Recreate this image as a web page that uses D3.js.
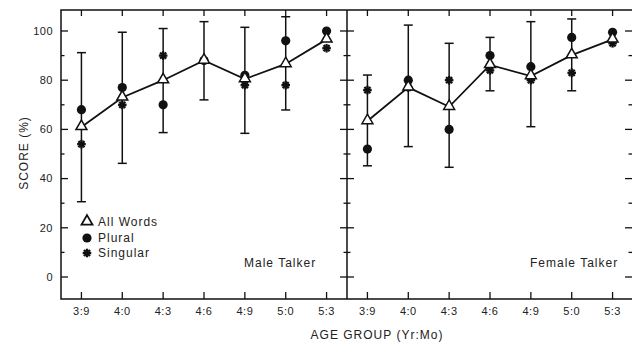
<!doctype html>
<html lang="en">
<head>
  <meta charset="utf-8">
  <title>Score by age group</title>
  <style>
    body { margin: 0; background: #fff; }
    svg { display: block; }
    text { font-family: "Liberation Sans", Arial, sans-serif; fill: #222; }
    .tick-label { font-size: 11px; letter-spacing: 0.5px; }
    .title { font-size: 12px; letter-spacing: 1px; }
  </style>
</head>
<body>
<svg width="632" height="342"></svg>
<script src="https://cdn.jsdelivr.net/npm/d3@7"></script>
<script>
  // ---- data ----
  var ages = ["3:9", "4:0", "4:3", "4:6", "4:9", "5:0", "5:3"];
  var yTicks = [0, 20, 40, 60, 80, 100];

  // male talker
  var maleAll = [61, 73, 80, 88, 80.5, 86.6, 96.6];
  var maleLo = [30.6, 46.2, 58.7, 72, 58.4, 67.9, null];
  var maleHi = [91.2, 99.5, 101, 103.8, 101.5, 105.8, null];
  var malePlural = [68, 77, 70, 88, 82, 96, 100];
  var maleSingular = [54, 70, 90, 88, 78, 78, 93];

  // female talker
  var femaleAll = [63.4, 77.1, 69.2, 86.2, 81.7, 90.2, 96.6];
  var femaleLo = [45.2, 53, 44.6, 75.7, 61.1, 75.7, null];
  var femaleHi = [82.1, 102.4, 95, 97.4, 103.8, 104.9, null];
  var femalePlural = [52, 80, 60, 90, 85.5, 97.4, 99.5];
  var femaleSingular = [76, 77, 80, 84, 80, 83, 95];

  var panels = [
    { name: "Male Talker", all: maleAll, lo: maleLo, hi: maleHi, plural: malePlural, singular: maleSingular },
    { name: "Female Talker", all: femaleAll, lo: femaleLo, hi: femaleHi, plural: femalePlural, singular: femaleSingular }
  ];

  var svg = d3.select("svg");
  var frameL = 61, frameM = 347, frameR = 633, frameT = 10, frameB = 299;

  var y = d3.scaleLinear().domain([0, 100]).range([277, 31]);

  var g = svg.append("g");

  // frame
  g.append("path")
    .attr("d", "M" + frameL + "," + frameT + "H" + frameR + "V" + frameB + "H" + frameL + "Z")
    .attr("fill", "none").attr("stroke", "#111").attr("stroke-width", 1.5);
  g.append("line")
    .attr("x1", frameM).attr("x2", frameM).attr("y1", frameT).attr("y2", frameB)
    .attr("stroke", "#111").attr("stroke-width", 1.5);

  // y ticks on left edge, divider and right edge
  var allTicks = d3.range(0, 110, 10);
  allTicks.forEach(function (v) {
    var major = v % 20 === 0, len = major ? 7 : 3.5;
    g.append("line").attr("x1", frameL).attr("x2", frameL + len).attr("y1", y(v)).attr("y2", y(v))
      .attr("stroke", "#111").attr("stroke-width", 1.3);
    g.append("line").attr("x1", frameM - len).attr("x2", frameM + len).attr("y1", y(v)).attr("y2", y(v))
      .attr("stroke", "#111").attr("stroke-width", 1.3);
    g.append("line").attr("x1", frameR - len - 1).attr("x2", frameR).attr("y1", y(v)).attr("y2", y(v))
      .attr("stroke", "#111").attr("stroke-width", 1.3);
  });

  g.selectAll(".ylab").data(yTicks).enter().append("text")
    .attr("class", "tick-label")
    .attr("x", 53).attr("y", function (d) { return y(d); })
    .attr("dy", "0.35em").attr("text-anchor", "end")
    .text(function (d) { return d; });

  // asterisk marker
  function asterisk(sel, r) {
    [0, 45, 90, 135].forEach(function (a) {
      sel.append("line")
        .attr("x1", -r).attr("x2", r).attr("y1", 0).attr("y2", 0)
        .attr("transform", "rotate(" + a + ")")
        .attr("stroke", "#111").attr("stroke-width", 2.3);
    });
  }
  var tri = d3.symbol().type(d3.symbolTriangle).size(52);

  panels.forEach(function (p, i) {
    var x0 = i === 0 ? frameL : frameM, x1 = i === 0 ? frameM : frameR;
    var x = d3.scalePoint().domain(ages).range([x0, x1]).padding(0.5);
    var pg = g.append("g");

    // x ticks top and bottom, labels
    ages.forEach(function (a) {
      pg.append("line").attr("x1", x(a)).attr("x2", x(a)).attr("y1", frameB).attr("y2", frameB - 7)
        .attr("stroke", "#111").attr("stroke-width", 1.3);
      pg.append("line").attr("x1", x(a)).attr("x2", x(a)).attr("y1", frameT).attr("y2", frameT + 6)
        .attr("stroke", "#111").attr("stroke-width", 1.3);
      pg.append("text").attr("class", "tick-label")
        .attr("x", x(a)).attr("y", 315).attr("text-anchor", "middle").text(a);
    });

    // error bars
    ages.forEach(function (a, k) {
      if (p.lo[k] == null) return;
      var eb = pg.append("g").attr("stroke", "#111").attr("stroke-width", 1.5);
      eb.append("line").attr("x1", x(a)).attr("x2", x(a)).attr("y1", y(p.lo[k])).attr("y2", y(p.hi[k]));
      eb.append("line").attr("x1", x(a) - 4.5).attr("x2", x(a) + 4.5).attr("y1", y(p.lo[k])).attr("y2", y(p.lo[k]));
      eb.append("line").attr("x1", x(a) - 4.5).attr("x2", x(a) + 4.5).attr("y1", y(p.hi[k])).attr("y2", y(p.hi[k]));
    });

    // singular (asterisks)
    ages.forEach(function (a, k) {
      var s = pg.append("g").attr("transform", "translate(" + x(a) + "," + y(p.singular[k]) + ")");
      asterisk(s, 4.3);
    });

    // plural (filled circles)
    pg.selectAll(".plural").data(p.plural).enter().append("circle")
      .attr("cx", function (d, k) { return x(ages[k]); })
      .attr("cy", function (d) { return y(d); })
      .attr("r", 4.6).attr("fill", "#111");

    // all words line + triangles
    var line = d3.line()
      .x(function (d, k) { return x(ages[k]); })
      .y(function (d) { return y(d); });
    pg.append("path").datum(p.all).attr("d", line)
      .attr("fill", "none").attr("stroke", "#111").attr("stroke-width", 1.8);
    pg.selectAll(".all").data(p.all).enter().append("path")
      .attr("d", tri)
      .attr("transform", function (d, k) { return "translate(" + x(ages[k]) + "," + (y(d) - 0.5) + ")"; })
      .attr("fill", "#fff").attr("stroke", "#111").attr("stroke-width", 1.5);

    pg.append("text").attr("class", "title")
      .attr("x", i === 0 ? 244 : 530).attr("y", 266.5).text(p.name);
  });

  // legend
  var legend = g.append("g");
  legend.append("path").attr("d", tri)
    .attr("transform", "translate(87,221.5)")
    .attr("fill", "#fff").attr("stroke", "#111").attr("stroke-width", 1.8);
  legend.append("circle").attr("cx", 87).attr("cy", 238).attr("r", 4.6).attr("fill", "#111");
  asterisk(legend.append("g").attr("transform", "translate(87,253)"), 4.3);
  [["All Words", 222], ["Plural", 238], ["Singular", 253]].forEach(function (d) {
    legend.append("text").attr("class", "title").attr("x", 98).attr("y", d[1]).attr("dy", "0.35em").text(d[0]);
  });

  // axis titles
  svg.append("text").attr("class", "title")
    .attr("transform", "translate(28,153) rotate(-90)")
    .attr("text-anchor", "middle").text("SCORE (%)");
  svg.append("text").attr("class", "title")
    .attr("x", 377).attr("y", 339).attr("text-anchor", "middle").text("AGE GROUP (Yr:Mo)");
</script>
</body>
</html>
